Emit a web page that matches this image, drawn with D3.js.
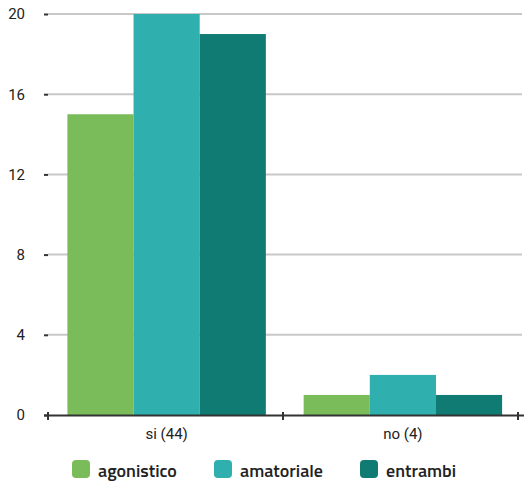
<!DOCTYPE html>
<html>
<head>
<meta charset="utf-8">
<script src="https://cdn.jsdelivr.net/npm/d3@7"></script>
<style>
  html, body { margin: 0; padding: 0; background: #fff; }
  svg { display: block; }
</style>
</head>
<body>
<svg id="chart" width="524" height="484"></svg>
<script>
const categories = ["si (44)", "no (4)"];
const seriesNames = ["agonistico", "amatoriale", "entrambi"];
const agonistico = [15, 1];
const amatoriale = [20, 2];
const entrambi = [19, 1];
const yTicks = [0, 4, 8, 12, 16, 20];
const colors = ["#7bbc5a", "#2fafad", "#0f7b73"];

const seriesValues = [agonistico, amatoriale, entrambi];
const rows = categories.map((c, i) => ({
  cat: c,
  vals: seriesNames.map((s, j) => ({ key: s, value: seriesValues[j][i] }))
}));

const svg = d3.select("#chart");
const plotLeft = 48, plotRight = 518, plotTop = 14, plotBottom = 415;

const x0 = d3.scaleBand().domain(categories).range([plotLeft + 0.5, plotRight + 3])
  .paddingInner(0.16).paddingOuter(0.08);
const x1 = d3.scaleBand().domain(seriesNames).range([0, x0.bandwidth()]);
const y = d3.scaleLinear().domain([0, 20]).range([plotBottom, plotTop]);

const labelFont = "Roboto, 'Liberation Sans', Arial, sans-serif";
const legendFont = "'Titillium Web', 'Noto Sans', sans-serif";

// horizontal grid
svg.append("g").selectAll("line").data(yTicks.filter(d => d > 0)).join("line")
  .attr("x1", plotLeft).attr("x2", 522)
  .attr("y1", d => y(d)).attr("y2", d => y(d))
  .attr("stroke", "#c8c8c8").attr("stroke-width", 2);

// y axis
const yAxis = svg.append("g").attr("transform", `translate(${plotLeft},0)`)
  .call(d3.axisLeft(y).tickValues(yTicks).tickSize(4).tickPadding(19));
yAxis.select(".domain").remove();
yAxis.selectAll(".tick line").attr("stroke", "#333").attr("stroke-width", 2);
yAxis.selectAll(".tick text")
  .attr("font-family", labelFont)
  .attr("font-size", 15).attr("fill", "#222");

// bars
const groups = svg.append("g").selectAll("g").data(rows).join("g")
  .attr("transform", d => `translate(${x0(d.cat)},0)`);
groups.selectAll("rect").data(d => d.vals).join("rect")
  .attr("x", d => x1(d.key))
  .attr("width", x1.bandwidth())
  .attr("y", d => y(d.value))
  .attr("height", d => y(0) - y(d.value))
  .attr("fill", (d, i) => colors[i]);

// x axis with category boundary ticks
const xAxis = svg.append("g").attr("transform", `translate(0,${plotBottom})`);
xAxis.append("line").attr("x1", 44).attr("x2", 524)
  .attr("y1", 0.5).attr("y2", 0.5)
  .attr("stroke", "#333").attr("stroke-width", 2);
const groupStep = (plotRight - plotLeft) / categories.length;
const bounds = d3.range(categories.length + 1).map(i => plotLeft + i * groupStep);
xAxis.selectAll("line.bt").data(bounds).join("line").attr("class", "bt")
  .attr("x1", d => d).attr("x2", d => d)
  .attr("y1", -3).attr("y2", 5)
  .attr("stroke", "#333").attr("stroke-width", 2);
xAxis.selectAll("text").data(categories).join("text")
  .attr("x", d => x0(d) + x0.bandwidth() / 2)
  .attr("y", 24)
  .attr("text-anchor", "middle")
  .attr("font-family", labelFont).attr("font-size", 15).attr("fill", "#222")
  .text(d => d);

// legend
const legendX = [72, 214, 360];
const legend = svg.append("g").selectAll("g").data(seriesNames).join("g")
  .attr("transform", (d, i) => `translate(${legendX[i]},460)`);
legend.append("rect").attr("width", 18).attr("height", 18).attr("rx", 4)
  .attr("fill", (d, i) => colors[i]);
legend.append("text").attr("x", 26).attr("y", 17)
  .attr("font-family", legendFont).attr("font-size", 18).attr("font-weight", 600)
  .attr("fill", "#222").text(d => d);
</script>
</body>
</html>
